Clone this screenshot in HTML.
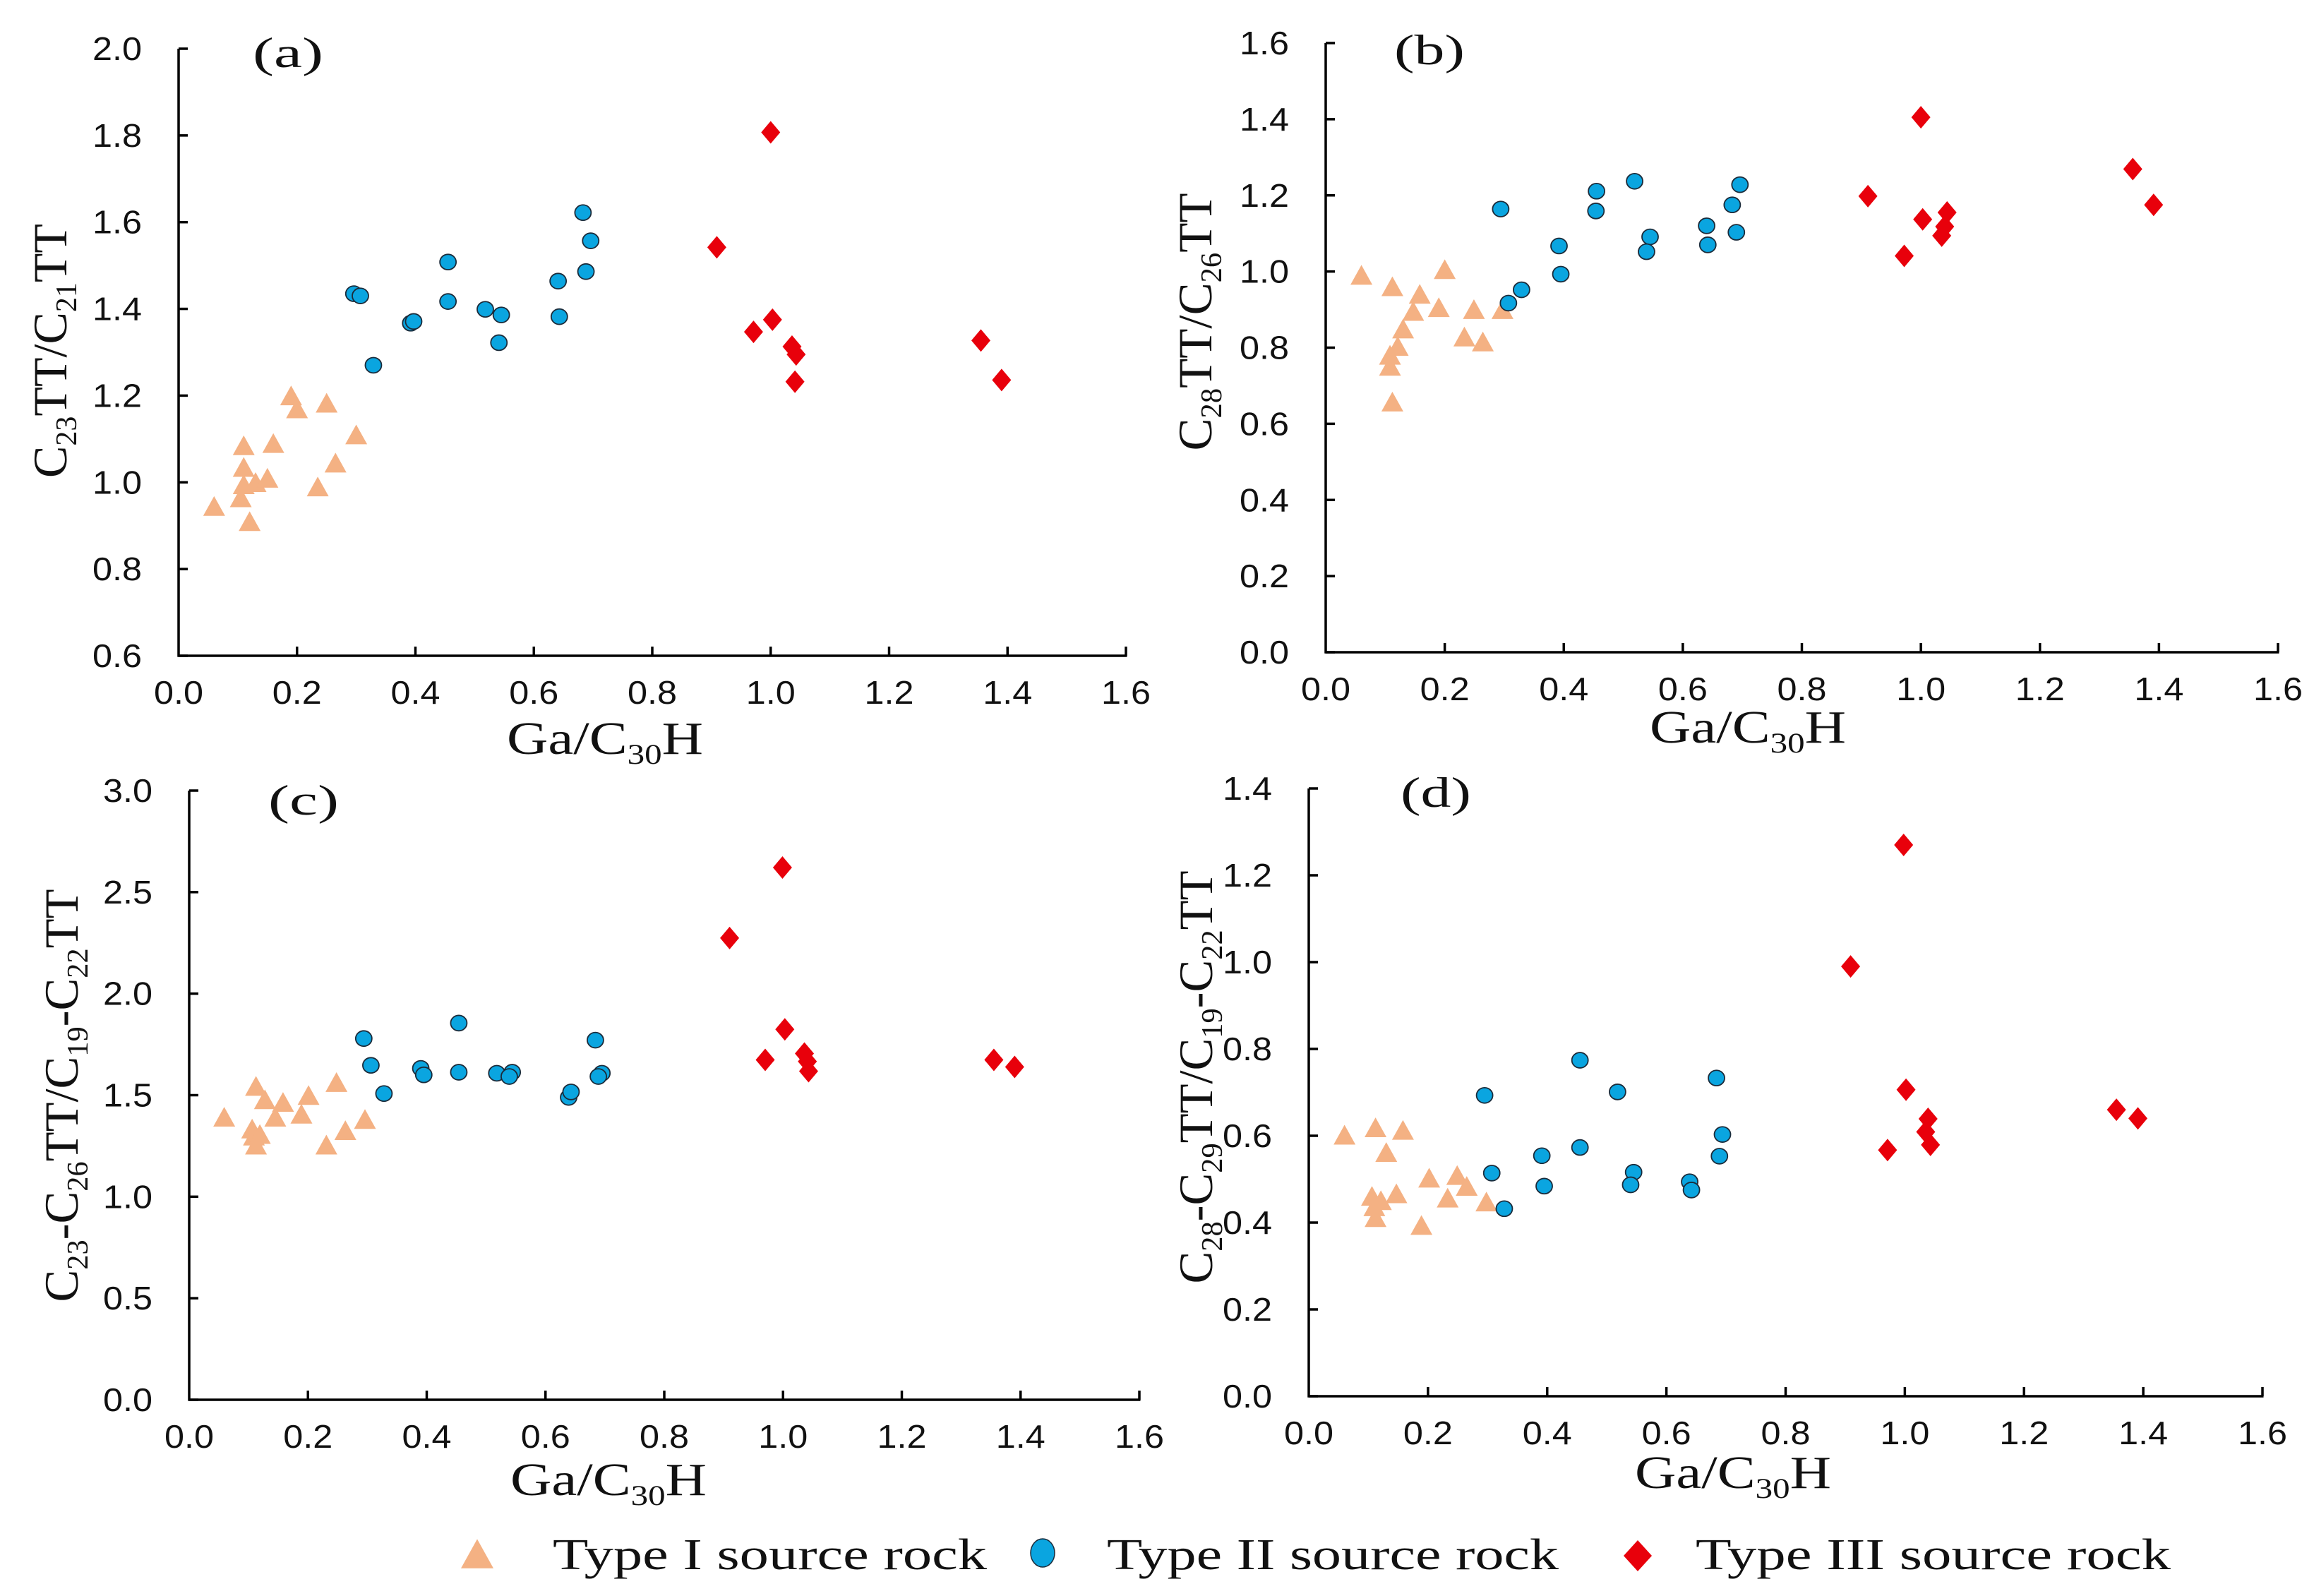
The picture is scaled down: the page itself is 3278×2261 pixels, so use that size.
<!DOCTYPE html>
<html><head><meta charset="utf-8">
<style>
html,body{margin:0;padding:0;background:#fff;}
svg{display:block;}
</style></head>
<body>
<svg id="fig" xmlns="http://www.w3.org/2000/svg" width="3278" height="2261" viewBox="0 0 3278 2261">
<rect x="0" y="0" width="3278" height="2261" fill="#fff"/>
</svg>
<script>
// ---- data (panel a) ----
const aIx = [0.06,0.11,0.11,0.11,0.105,0.12,0.13,0.15,0.16,0.19,0.20,0.235,0.25,0.265,0.30];
const aIy = [0.94,1.08,1.03,0.99,0.96,0.905,0.995,1.005,1.085,1.195,1.165,0.985,1.178,1.04,1.105];
const aIIx = [0.296,0.307,0.329,0.392,0.397,0.455,0.455,0.518,0.545,0.541,0.641,0.643,0.683,0.696,0.688];
const aIIy = [1.435,1.43,1.27,1.367,1.371,1.508,1.417,1.399,1.386,1.322,1.464,1.382,1.622,1.557,1.486];
const aIIIx = [1.0,0.909,0.971,1.003,1.036,1.043,1.041,1.355,1.39];
const aIIIy = [1.807,1.542,1.347,1.375,1.313,1.295,1.232,1.327,1.236];
// ---- data (panel b) ----
const bIx = [0.06,0.112,0.108,0.108,0.121,0.13,0.112,0.147,0.158,0.19,0.20,0.233,0.249,0.264,0.297];
const bIy = [0.985,0.955,0.775,0.746,0.798,0.844,0.652,0.89,0.935,0.90,1.0,0.823,0.895,0.81,0.895];
const bIIx = [0.294,0.307,0.329,0.392,0.395,0.455,0.454,0.519,0.545,0.539,0.64,0.642,0.683,0.696,0.69];
const bIIy = [1.164,0.917,0.952,1.067,0.993,1.211,1.159,1.237,1.091,1.052,1.12,1.07,1.175,1.228,1.103];
const bIIIx = [1.0,0.911,0.972,1.003,1.044,1.04,1.035,1.356,1.391];
const bIIIy = [1.405,1.198,1.041,1.137,1.155,1.118,1.094,1.269,1.175];
// ---- data (panel c) ----
const cIx = [0.059,0.1125,0.1275,0.106,0.109,0.1125,0.119,0.158,0.145,0.189,0.201,0.231,0.248,0.263,0.296];
const cIy = [1.382,1.534,1.468,1.324,1.289,1.245,1.297,1.455,1.382,1.397,1.489,1.245,1.553,1.316,1.371];
const cIIx = [0.294,0.306,0.328,0.39,0.395,0.454,0.454,0.518,0.544,0.539,0.639,0.643,0.684,0.695,0.689];
const cIIy = [1.779,1.647,1.508,1.632,1.6,1.855,1.613,1.608,1.613,1.592,1.489,1.516,1.771,1.608,1.592];
const cIIIx = [0.999,0.91,0.97,1.003,1.036,1.041,1.043,1.355,1.39];
const cIIIy = [2.621,2.274,1.674,1.824,1.705,1.666,1.618,1.674,1.639];
// ---- data (panel d) ----
const dIx = [0.06,0.112,0.158,0.13,0.106,0.11,0.112,0.121,0.147,0.189,0.202,0.233,0.249,0.265,0.298];
const dIy = [0.597,0.614,0.608,0.557,0.456,0.432,0.407,0.446,0.462,0.389,0.498,0.452,0.504,0.479,0.443];
const dIIx = [0.295,0.307,0.328,0.391,0.395,0.455,0.455,0.518,0.545,0.54,0.639,0.642,0.684,0.694,0.689];
const dIIy = [0.693,0.514,0.432,0.554,0.484,0.774,0.573,0.701,0.516,0.487,0.494,0.475,0.733,0.603,0.553];
const dIIIx = [0.998,0.909,0.971,1.002,1.039,1.035,1.043,1.355,1.391];
const dIIIy = [1.27,0.99,0.567,0.706,0.639,0.609,0.579,0.66,0.64];
// ---- tick labels ----
const xTicks = ["0.0","0.2","0.4","0.6","0.8","1.0","1.2","1.4","1.6"];
const aYTicks = ["0.6","0.8","1.0","1.2","1.4","1.6","1.8","2.0"];
const bYTicks = ["0.0","0.2","0.4","0.6","0.8","1.0","1.2","1.4","1.6"];
const cYTicks = ["0.0","0.5","1.0","1.5","2.0","2.5","3.0"];
const dYTicks = ["0.0","0.2","0.4","0.6","0.8","1.0","1.2","1.4"];

const NS = "http://www.w3.org/2000/svg";
const svg = document.getElementById('fig');
function mk(tag, attrs, parent){
  const e = document.createElementNS(NS, tag);
  for (const k in attrs) e.setAttribute(k, attrs[k]);
  (parent||svg).appendChild(e);
  return e;
}
const SERIF = '"Liberation Serif", serif';
const SANS = '"Liberation Sans", sans-serif';

function triangle(g, cx, cy, s){
  const h = s*0.9;
  return mk('polygon', {points:`${cx},${cy-h*0.62} ${cx-s/2},${cy+h*0.38} ${cx+s/2},${cy+h*0.38}`, fill:'#F4B183'}, g);
}
function circle(g, cx, cy, r){
  return mk('ellipse', {cx:cx, cy:cy, rx:r, ry:r*0.95, fill:'#0AA5E0', stroke:'#1B2B3A', 'stroke-width':1.8}, g);
}
function diamond(g, cx, cy, w, h){
  return mk('polygon', {points:`${cx},${cy-h/2} ${cx+w/2},${cy} ${cx},${cy+h/2} ${cx-w/2},${cy}`, fill:'#E8000B'}, g);
}

function panel(p){
  const g = mk('g', {});
  
  
  const X = v => p.x0 + (v - 0) / 1.6 * (p.x1 - p.x0);
  const Y = v => p.yb + (v - p.ymin) / (p.ymax - p.ymin) * (p.yt - p.yb);
  const ya = mk('line', {x1:p.x0, y1:p.yt, x2:p.x0, y2:p.yb+1.5, stroke:'#000', 'stroke-width':3.5}, g);
  
  
  const xa = mk('line', {x1:p.x0-1.5, y1:p.yb, x2:p.x1+1.5, y2:p.yb, stroke:'#000', 'stroke-width':3.5}, g);
  
  
  xTicks.forEach((t, i) => {
    const v = parseFloat(t), x = X(v);
    if (i > 0) mk('line', {x1:x, y1:p.yb, x2:x, y2:p.yb-13, stroke:'#000', 'stroke-width':3.5}, g);
    const tx = mk('text', {x:x, y:p.yb+68, 'font-family':SANS, 'font-size':46, 'text-anchor':'middle', textLength:70, lengthAdjust:'spacingAndGlyphs', fill:'#111'}, g);
    tx.textContent = t;
    
    
  });
  p.yTicks.forEach((t) => {
    const v = parseFloat(t), y = Y(v);
    mk('line', {x1:p.x0, y1:y, x2:p.x0+13, y2:y, stroke:'#000', 'stroke-width':3.5}, g);
    const tx = mk('text', {x:p.x0-52, y:y+16, 'font-family':SANS, 'font-size':46, 'text-anchor':'end', textLength:70, lengthAdjust:'spacingAndGlyphs', fill:'#111'}, g);
    tx.textContent = t;
    
    
  });
  const pl = mk('text', {x:p.lx, y:p.ly, 'font-family':SERIF, 'font-size':60, textLength:100, lengthAdjust:'spacingAndGlyphs', fill:'#111'}, g);
  pl.textContent = '(' + p.id + ')';
  
  
  const xt = mk('text', {x:p.xtx, y:p.xty, 'font-family':SERIF, 'font-size':66, 'text-anchor':'middle', textLength:278, lengthAdjust:'spacingAndGlyphs', fill:'#111'}, g);
  xt.innerHTML = 'Ga/C<tspan font-size="40" dy="14">30</tspan><tspan dy="-14">H</tspan>';
  
  
  const yt = mk('text', {x:0, y:0, transform:`translate(${p.ytx},${p.yty}) rotate(-90)`, 'font-family':SERIF, 'font-size':68, 'text-anchor':'middle', textLength:p.ytl, lengthAdjust:'spacingAndGlyphs', fill:'#111'}, g);
  yt.innerHTML = p.ytitle;
  
  
  p.Ix.forEach((v, i) => {
    const m = triangle(g, X(v), Y(p.Iy[i]), 31);
    
    
  });
  p.IIx.forEach((v, i) => {
    const m = circle(g, X(v), Y(p.IIy[i]), 11.5);
    
    
  });
  p.IIIx.forEach((v, i) => {
    const m = diamond(g, X(v), Y(p.IIIy[i]), 27, 32);
    
    
  });
}

const sub = (s) => `<tspan font-size="42" dy="14">${s}</tspan><tspan dy="-14">`;
panel({id:'a', x0:253, x1:1595, yt:69, yb:929, ymin:0.6, ymax:2.0, yTicks:aYTicks,
  Ix:aIx, Iy:aIy, IIx:aIIx, IIy:aIIy, IIIx:aIIIx, IIIy:aIIIy,
  lx:358, ly:95, xtx:857, xty:1068, ytx:94, yty:497, ytl:360,
  ytitle:'C'+sub('23')+'TT/C</tspan>'+sub('21')+'TT</tspan>'});
panel({id:'b', x0:1878, x1:3227, yt:61, yb:924, ymin:0.0, ymax:1.6, yTicks:bYTicks,
  Ix:bIx, Iy:bIy, IIx:bIIx, IIy:bIIy, IIIx:bIIIx, IIIy:bIIIy,
  lx:1975, ly:91, xtx:2476, xty:1052, ytx:1716, yty:456, ytl:365,
  ytitle:'C'+sub('28')+'TT/C</tspan>'+sub('26')+'TT</tspan>'});
panel({id:'c', x0:268, x1:1614, yt:1120, yb:1983, ymin:0.0, ymax:3.0, yTicks:cYTicks,
  Ix:cIx, Iy:cIy, IIx:cIIx, IIy:cIIy, IIIx:cIIIx, IIIy:cIIIy,
  lx:380, ly:1154, xtx:862, xty:2118, ytx:110, yty:1552, ytl:585,
  ytitle:'C'+sub('23')+'-C</tspan>'+sub('26')+'TT/C</tspan>'+sub('19')+'-C</tspan>'+sub('22')+'TT</tspan>'});
panel({id:'d', x0:1854, x1:3205, yt:1117, yb:1978, ymin:0.0, ymax:1.4, yTicks:dYTicks,
  Ix:dIx, Iy:dIy, IIx:dIIx, IIy:dIIy, IIIx:dIIIx, IIIy:dIIIy,
  lx:1984, ly:1143, xtx:2455, xty:2108, ytx:1717, yty:1526, ytl:585,
  ytitle:'C'+sub('28')+'-C</tspan>'+sub('29')+'TT/C</tspan>'+sub('19')+'-C</tspan>'+sub('22')+'TT</tspan>'});

const lg = mk('g', {});


const l1 = triangle(lg, 676, 2206, 46);


const l2 = mk('ellipse', {cx:1477, cy:2200, rx:17, ry:20, fill:'#0AA5E0', stroke:'#1B2B3A', 'stroke-width':1.5}, lg);


const l3 = diamond(lg, 2320, 2204, 40, 44);


[[783,615,'Type I source rock','legend-type-i-label'],[1568,640,'Type II source rock','legend-type-ii-label'],[2402,673,'Type III source rock','legend-type-iii-label']].forEach(d => {
  const t = mk('text', {x:d[0], y:2223, 'font-family':SERIF, 'font-size':62, textLength:d[1], lengthAdjust:'spacingAndGlyphs', fill:'#111'}, lg);
  t.textContent = d[2];
  
  
});
</script>
</body></html>
